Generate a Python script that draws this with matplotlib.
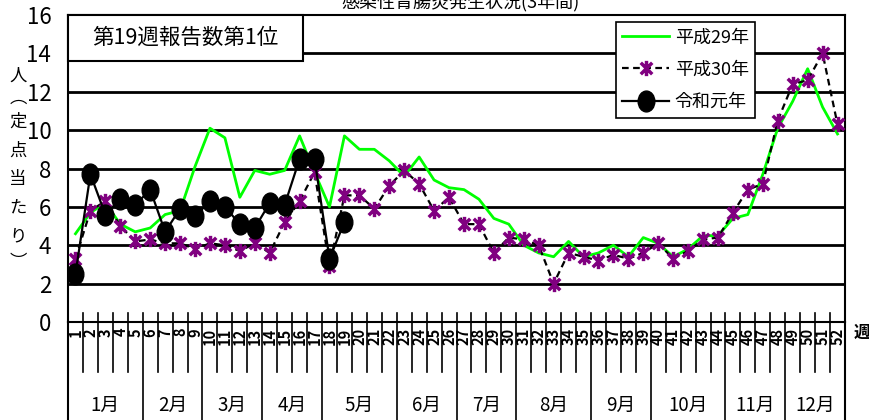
import matplotlib
matplotlib.use("Agg")
import matplotlib.pyplot as plt
from matplotlib.path import Path
from matplotlib.patches import Rectangle
import numpy as np

plt.rcParams["font.family"] = ["Liberation Sans Narrow", "Noto Sans CJK JP", "DejaVu Sans"]

weeks = np.arange(1, 53)
h29 = [4.6, 5.7, 6.2, 5.1, 4.7, 4.9, 5.6, 5.8, 8.1, 10.1, 9.6, 6.5, 7.9, 7.7, 7.9, 9.7,
       7.8, 6.0, 9.7, 9.0, 9.0, 8.4, 7.6, 8.6, 7.4, 7.0, 6.9, 6.4, 5.4, 5.1, 4.0, 3.6,
       3.4, 4.2, 3.4, 3.6, 4.0, 3.4, 4.4, 4.1, 3.4, 3.8, 4.5, 4.5, 5.4, 5.6, 7.7, 10.1,
       11.5, 13.2, 11.2, 9.8]
h30 = [3.3, 5.8, 6.3, 5.0, 4.2, 4.3, 4.1, 4.1, 3.8, 4.1, 4.0, 3.7, 4.1, 3.6, 5.2, 6.3,
       7.8, 2.9, 6.6, 6.6, 5.9, 7.1, 7.9, 7.2, 5.8, 6.5, 5.1, 5.1, 3.6, 4.4, 4.3, 4.0,
       2.0, 3.6, 3.4, 3.2, 3.5, 3.3, 3.6, 4.1, 3.3, 3.7, 4.3, 4.4, 5.7, 6.9, 7.2, 10.5,
       12.4, 12.6, 14.0, 10.3]
r1 = [2.5, 7.7, 5.6, 6.4, 6.1, 6.9, 4.7, 5.9, 5.5, 6.3, 6.0, 5.1, 4.9, 6.2, 6.1, 8.5,
      8.5, 3.3, 5.2]
months = ["1月", "2月", "3月", "4月", "5月", "6月", "7月", "8月", "9月", "10月", "11月", "12月"]
month_weeks = [5, 4, 4, 4, 5, 4, 4, 5, 4, 5, 4, 4]
yticks = [0, 2, 4, 6, 8, 10, 12, 14, 16]

W, H = 869, 420
fig = plt.figure(figsize=(W / 100, H / 100), dpi=100)
L, R, T, B = 68, 845, 15, 322
ax = fig.add_axes([L / W, (H - B) / H, (R - L) / W, (B - T) / H])
ah = B - T

# markers
star = Path([(0, -1), (0, 1), (-0.75, -0.75), (0.75, 0.75), (-0.75, 0.75), (0.75, -0.75)],
            [Path.MOVETO, Path.LINETO] * 3)
circ = Path.unit_circle()
ell = Path(circ.vertices * [0.8, 1.0], circ.codes)

for y in yticks[1:-1]:
    ax.axhline(y, color="black", lw=2, zorder=1)

ax.plot(weeks, h29, color="#00ff00", lw=2, label="平成29年", zorder=3)
ax.plot(weeks, h30, color="black", lw=1.6, ls=(0, (3, 2)), marker=star, ms=11,
        mec="#800080", mew=2.5, label="平成30年", zorder=4)
ax.plot(weeks[:len(r1)], r1, color="black", lw=1.6, marker=ell, ms=15,
        mfc="black", mec="black", label="令和元年", zorder=5)

ax.set_xlim(0.5, 52.5)
ax.set_ylim(0, 16)
ax.set_yticks(yticks)
ax.set_xticks([])
ax.tick_params(axis="y", length=0, pad=12, labelsize=16)
for s in ax.spines.values():
    s.set_linewidth(1.5)

# week / month table below the axis
tr = ax.get_xaxis_transform()
y_top = 9 / ah
y_mid = -(372 - B) / ah
y_bot = -(H - B) / ah
bounds = np.cumsum(month_weeks) + 0.5
for b in np.arange(1.5, 52.5):
    ybottom = y_bot if b in bounds else y_mid
    ax.plot([b, b], [y_top, ybottom], color="black", lw=1.2, transform=tr, clip_on=False)
ax.plot([0.5, 0.5], [0, y_bot], color="black", lw=1.5, transform=tr, clip_on=False)
ax.plot([52.5, 52.5], [0, y_bot], color="black", lw=1.5, transform=tr, clip_on=False)
for w in weeks:
    ax.text(w, -6 / ah, str(w), rotation=90, ha="center", va="top", fontsize=10.5,
            fontweight="bold", transform=tr)
starts = np.concatenate([[0.5], bounds[:-1]])
for m, s, e in zip(months, starts, bounds):
    ax.text((s + e) / 2, -(405 - B) / ah, m, ha="center", va="center", fontsize=13.5,
            transform=tr)
fig.text(862 / W, 1 - 333 / H, "週", ha="center", va="center", fontsize=12,
         fontweight="bold", family=["Noto Sans CJK JP"])

# y label in vertical writing
ylab = ["人", "︵", "定", "点", "当", "た", "り", "︶"]
ypos = [76, 98, 122, 151, 179, 208, 236, 262]
for c, yy in zip(ylab, ypos):
    fig.text(18 / W, 1 - yy / H, c, ha="center", va="center", fontsize=12.5,
             family=["Noto Sans CJK JP"])

# title (cut at top, as in the source)
fig.text(460 / W, 1 - 2 / H, "感染性胃腸炎発生状況(3年間)", ha="center", va="center",
         fontsize=13, family=["Noto Sans CJK JP"])

# annotation box
ax.add_patch(Rectangle((0, 1 - 46 / ah), (303 - L) / (R - L), 46 / ah, transform=ax.transAxes,
                       facecolor="white", edgecolor="black", lw=1.5, zorder=6, clip_on=False))
ax.text((185 - L) / (R - L), 1 - 23 / ah, "第19週報告数第1位", transform=ax.transAxes,
        ha="center", va="center", fontsize=15.5, zorder=7, family=["Noto Sans CJK JP"])

leg = ax.legend(loc="upper left", bbox_to_anchor=((616 - L) / (R - L), 1 - 7 / ah),
                borderaxespad=0, fancybox=False, edgecolor="black", framealpha=1,
                fontsize=13, handlelength=2.6, labelspacing=0.8, borderpad=0.35,
                handletextpad=0.3)
leg.get_frame().set_linewidth(1.2)
leg.set_zorder(8)

fig.savefig("out.png", dpi=100)
